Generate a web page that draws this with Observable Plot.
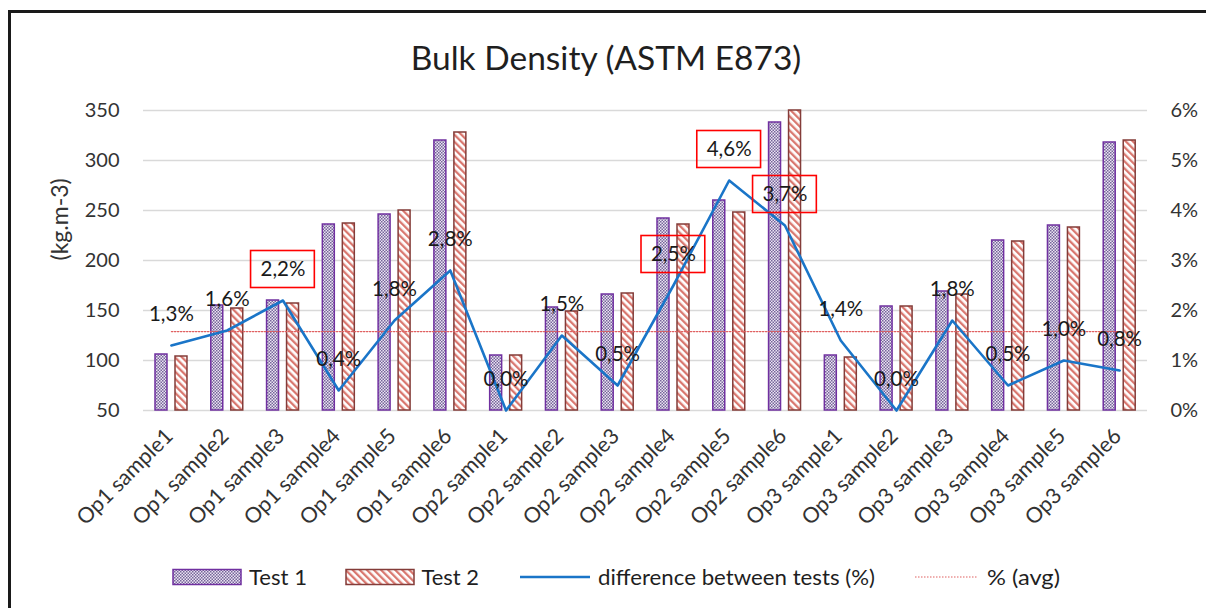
<!DOCTYPE html>
<html><head><meta charset="utf-8">
<script src="https://cdn.jsdelivr.net/npm/d3@7"></script>
<script src="https://cdn.jsdelivr.net/npm/@observablehq/plot@0.6"></script>
<style>
html,body{margin:0;padding:0;background:#fff;}
#chart{position:relative;width:1206px;height:608px;overflow:hidden;font-family:Lato,sans-serif;color:#262626;background:#fff;}
#frame{position:absolute;left:8px;top:10px;width:1230px;height:640px;border-top:3px solid #1a1a1a;border-left:3px solid #1a1a1a;box-sizing:border-box;}
#title{position:absolute;left:0;width:1212px;top:35px;height:44px;line-height:44px;text-align:center;font-size:33.5px;color:#1f1f1f;}
#plots{position:absolute;left:0;top:92px;width:1206px;height:452px;}
#plots svg{position:absolute;left:0;top:0;}
#legend{position:absolute;left:0;top:544px;}
</style></head><body>
<svg width="0" height="0" style="position:absolute"><defs>
<pattern id="dots" patternUnits="userSpaceOnUse" width="3" height="3">
 <rect width="3" height="3" fill="#ebe5f2"/>
 <rect width="1.5" height="1.5" fill="#76649a"/>
 <rect x="1.5" y="1.5" width="1.5" height="1.5" fill="#76649a"/>
</pattern>
<pattern id="stripes" patternUnits="userSpaceOnUse" width="5" height="5" patternTransform="rotate(-45)">
 <rect width="5" height="5" fill="#fff"/>
 <rect width="2.3" height="5" fill="#d9776f"/>
</pattern>
</defs></svg>
<div id="chart">
  <div id="frame"></div>
  <div id="title">Bulk Density (ASTM E873)</div>
  <div id="plots"></div>
  <div id="legend"></div>
</div>
<script>
const categories = ["Op1 sample1","Op1 sample2","Op1 sample3","Op1 sample4","Op1 sample5","Op1 sample6",
  "Op2 sample1","Op2 sample2","Op2 sample3","Op2 sample4","Op2 sample5","Op2 sample6",
  "Op3 sample1","Op3 sample2","Op3 sample3","Op3 sample4","Op3 sample5","Op3 sample6"];
const test1 = [106,155,160,236,246,320, 105,153,166,242,260,338, 105,154,169,220,235,318];
const test2 = [104,152,157,237,250,328, 105,149,167,236,248,350, 103,154,166,219,233,320];
const diffPct = [1.3,1.6,2.2,0.4,1.8,2.8, 0.0,1.5,0.5,2.5,4.6,3.7, 1.4,0.0,1.8,0.5,1.0,0.8];
const highlighted = ["Op1 sample3","Op2 sample4","Op2 sample5","Op2 sample6"];
const yTicks = [50,100,150,200,250,300,350];
const pctTicks = [0,1,2,3,4,5,6];
const legendLabels = ["Test 1","Test 2","difference between tests (%)","% (avg)"];

const rows = categories.map((c,i)=>({category:c, test1:test1[i], test2:test2[i], diff:diffPct[i]}));
const avg = d3.mean(diffPct);
const fmt = v => v.toFixed(1).replace(".", ",") + "%";

const dims = {width:1206, height:452, marginTop:18, marginRight:59, marginBottom:134, marginLeft:143};

const p1 = Plot.plot({
  ...dims,
  style:{fontFamily:"Lato, sans-serif", fontSize:"20px", color:"#333", background:"transparent"},
  x:{domain:categories, padding:0, round:false},
  y:{domain:[50,350]},
  marks:[
    Plot.gridY(yTicks, {stroke:"#d9d9d9", strokeOpacity:1, strokeWidth:1.3}),
    Plot.barY(rows, {x:"category", y1:()=>50, y2:"test1", fill:"url(#dots)", stroke:"#7030a0", strokeWidth:1.5, insetLeft:12, insetRight:31.8}),
    Plot.barY(rows, {x:"category", y1:()=>50, y2:"test2", fill:"url(#stripes)", stroke:"#843c39", strokeWidth:1.5, insetLeft:32, insetRight:11.8}),
    Plot.axisY({ticks:yTicks, tickSize:0, tickPadding:24, label:null}),
    Plot.axisX({tickRotate:-45, tickSize:0, tickPadding:22, dx:-2, label:null, fontSize:21.5}),
    Plot.text(["(kg.m-3)"], {text:d=>d, frameAnchor:"left", dx:-83, rotate:-90, fontSize:23})
  ]
});

const p2 = Plot.plot({
  ...dims,
  style:{fontFamily:"Lato, sans-serif", fontSize:"20px", color:"#333", background:"transparent"},
  x:{domain:categories, padding:0, round:false, axis:null},
  y:{domain:[0,6]},
  marks:[
    Plot.axisY({anchor:"right", ticks:pctTicks, tickFormat:d=>d+"%", tickSize:0, tickPadding:23, label:null}),
    Plot.lineY([categories[0], categories[categories.length-1]], {x:d=>d, y:()=>avg, stroke:"#e06060", strokeWidth:1.2, strokeDasharray:"1.5 1.5"}),
    Plot.lineY(rows, {x:"category", y:"diff", stroke:"#1a75c8", strokeWidth:2.6}),
    Plot.barY(rows.filter(d=>highlighted.includes(d.category)), {x:"category", y1:d=>d.diff+0.25, y2:d=>d.diff+0.99, fill:"none", stroke:"#ff0000", strokeWidth:1.6, insetLeft:-4, insetRight:-4}),
    Plot.text(rows, {x:"category", y:"diff", text:d=>fmt(d.diff), dy:-31, fontSize:20.5, fill:"#1a1a1a"})
  ]
});

document.getElementById("plots").append(p1, p2);

// legend
const lg = d3.select("#legend").append("svg").attr("width",1206).attr("height",64)
  .style("font-family","Lato, sans-serif").style("font-size","21px");
const cy = 33;
const items = [
  {kind:"rect", x:173, w:68, fill:"url(#dots)", stroke:"#7030a0", tx:249, tl:58},
  {kind:"rect", x:346, w:68, fill:"url(#stripes)", stroke:"#843c39", tx:421.5, tl:57.5},
  {kind:"line", x:520, w:70, stroke:"#1a75c8", sw:2.6, tx:598, tl:277},
  {kind:"dash", x:915, w:63, stroke:"#e06060", sw:1.2, tx:987, tl:73}
];
items.forEach((it,i)=>{
  if (it.kind==="rect") {
    lg.append("rect").attr("x",it.x).attr("y",cy-7.5).attr("width",it.w).attr("height",15)
      .attr("fill",it.fill).attr("stroke",it.stroke).attr("stroke-width",1.5);
  } else {
    lg.append("line").attr("x1",it.x).attr("x2",it.x+it.w).attr("y1",cy).attr("y2",cy)
      .attr("stroke",it.stroke).attr("stroke-width",it.sw)
      .attr("stroke-dasharray", it.kind==="dash" ? "1.5 1.5" : null);
  }
  lg.append("text").attr("x",it.tx).attr("y",cy).attr("dy","0.36em").attr("fill","#1f1f1f")
    .attr("textLength",it.tl).attr("lengthAdjust","spacingAndGlyphs").text(legendLabels[i]);
});
</script>
</body></html>
